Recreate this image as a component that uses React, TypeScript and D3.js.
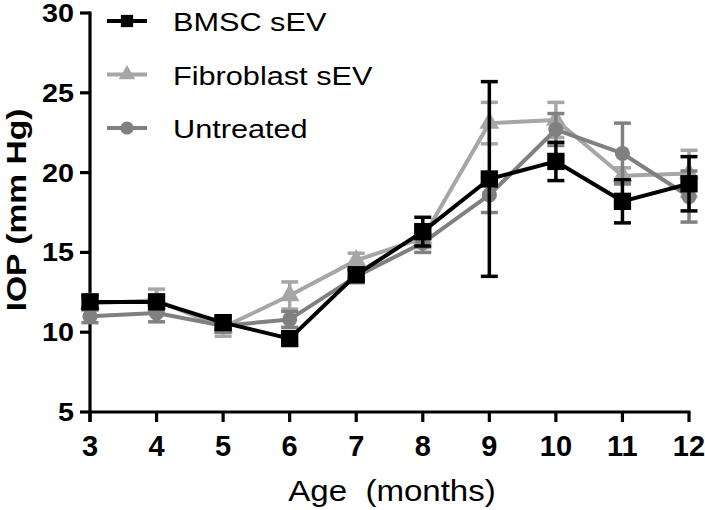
import React from 'react'
import * as d3 from 'd3'

// data (IOP, mean and error per month)
const months = [3, 4, 5, 6, 7, 8, 9, 10, 11, 12]
const bmscMean = [11.9, 11.9, 10.6, 9.6, 13.6, 16.3, 19.6, 20.7, 18.2, 19.3]
const bmscErr = [0.4, 0.4, 0.4, 0.4, 0.3, 0.9, 6.1, 1.2, 1.35, 1.7]
const fibMean = [11.8, 12.0, 10.3, 12.3, 14.5, 15.9, 23.1, 23.3, 19.8, 19.95]
const fibErr = [0.4, 0.7, 0.55, 0.85, 0.45, 0.6, 1.3, 1.1, 0.5, 1.45]
const untMean = [11.0, 11.2, 10.4, 10.8, 13.5, 15.6, 18.6, 22.7, 21.2, 18.5]
const untErr = [0.4, 0.55, 0.4, 0.5, 0.4, 0.6, 1.1, 1.0, 1.9, 1.6]
const yTicks = [5, 10, 15, 20, 25, 30]
const seriesNames = ['BMSC sEV', 'Fibroblast sEV', 'Untreated']

const width = 705
const height = 510
const margin = { top: 13, right: 16, bottom: 98, left: 90 }
const font = '"Liberation Sans", Arial, Helvetica, sans-serif'

const x = d3.scaleLinear().domain([3, 12]).range([margin.left, width - margin.right])
const y = d3.scaleLinear().domain([5, 30]).range([height - margin.bottom, margin.top])

const series = [
  { name: seriesNames[1], mean: fibMean, err: fibErr, color: '#a6a6a6', symbol: d3.symbolTriangle, size: 170, legendSize: 120 },
  { name: seriesNames[2], mean: untMean, err: untErr, color: '#808080', symbol: d3.symbolCircle, size: 180, legendSize: 135 },
  { name: seriesNames[0], mean: bmscMean, err: bmscErr, color: '#000000', symbol: d3.symbolSquare, size: 300, legendSize: 150 },
]
const legendOrder = [2, 0, 1]

const graphLine = d3.line<number>()
  .x((_, i) => x(months[i]))
  .y(d => y(d))

export default function App() {
  const capW = 8.5
  return (
    <svg width={width} height={height} style={{ position: 'absolute', left: 0, top: 0, background: '#fff' }}>
      {/* axes */}
      <g stroke="#000" strokeWidth={3.2} fill="none">
        <line x1={x(3)} x2={x(12) + 1.5} y1={y(5)} y2={y(5)} />
        <line x1={x(3)} x2={x(3)} y1={y(30) - 1.5} y2={y(5) + 10} />
        {yTicks.map(t => (
          <line key={t} x1={x(3) - 10} x2={x(3)} y1={y(t)} y2={y(t)} />
        ))}
        {months.map(m => (
          <line key={m} x1={x(m)} x2={x(m)} y1={y(5)} y2={y(5) + 10} />
        ))}
      </g>
      {yTicks.map(t => (
        <text key={t} transform={`translate(${x(3) - 16},${y(t) + 9}) scale(1.15,1)`}
          textAnchor="end" fontFamily={font} fontWeight="bold" fontSize={25}>{t}</text>
      ))}
      {months.map(m => (
        <text key={m} x={x(m)} y={y(5) + 44} textAnchor="middle"
          fontFamily={font} fontWeight="bold" fontSize={29}>{m}</text>
      ))}
      <text transform={`translate(392,501) scale(1.14,1)`} textAnchor="middle"
        fontFamily={font} fontSize={29}>{'Age\u00a0\u00a0(months)'}</text>
      <text transform={`translate(26,210) rotate(-90) scale(1.2,1)`} textAnchor="middle"
        fontFamily={font} fontWeight="bold" fontSize={28}>IOP (mm Hg)</text>

      {/* series */}
      {series.map(s => (
        <g key={s.name}>
          <g stroke={s.color} strokeWidth={3.5}>
            {s.mean.map((v, i) => (
              <g key={i}>
                <line x1={x(months[i])} x2={x(months[i])} y1={y(v - s.err[i])} y2={y(v + s.err[i])} />
                <line x1={x(months[i]) - capW} x2={x(months[i]) + capW} y1={y(v - s.err[i])} y2={y(v - s.err[i])} />
                <line x1={x(months[i]) - capW} x2={x(months[i]) + capW} y1={y(v + s.err[i])} y2={y(v + s.err[i])} />
              </g>
            ))}
          </g>
          <path d={graphLine(s.mean) || ''} fill="none" stroke={s.color} strokeWidth={4} strokeLinejoin="round" />
          {s.mean.map((v, i) => (
            <path key={i} transform={`translate(${x(months[i])},${y(v)})`}
              d={d3.symbol().type(s.symbol).size(s.size)() || ''} fill={s.color} />
          ))}
        </g>
      ))}

      {/* legend */}
      {legendOrder.map((si, row) => {
        const s = series[si]
        const cy = 21 + row * 53.5
        return (
          <g key={s.name}>
            <line x1={107} x2={147} y1={cy} y2={cy} stroke={s.color} strokeWidth={4} />
            <path transform={`translate(127,${cy})`} d={d3.symbol().type(s.symbol).size(s.legendSize)() || ''} fill={s.color} />
            <text transform={`translate(173,${cy + 10}) scale(1.18,1)`} fontFamily={font} fontSize={26}>{s.name}</text>
          </g>
        )
      })}
    </svg>
  )
}
